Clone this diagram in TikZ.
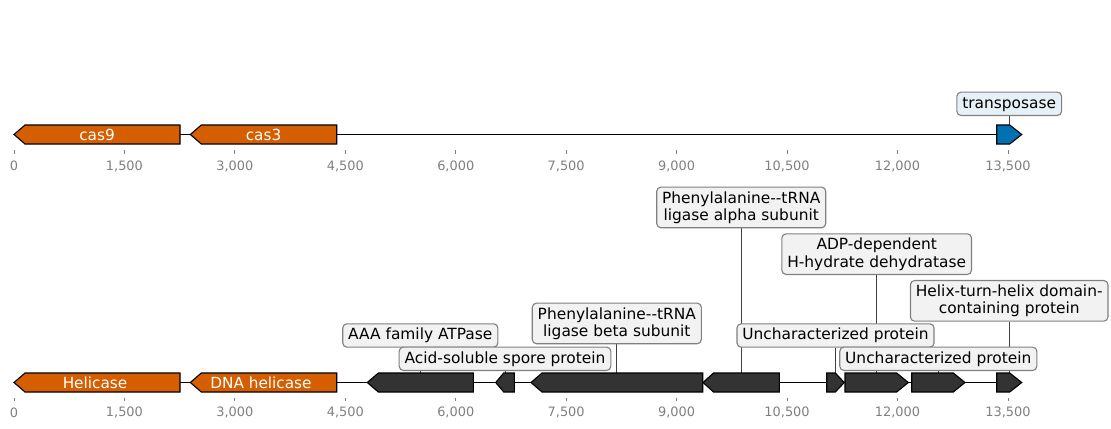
\documentclass[tikz,border=0pt]{standalone}
\usepackage{fontspec}
\setmainfont{DejaVu Sans}
\usetikzlibrary{positioning}
\definecolor{casorange}{HTML}{D55E00}
\definecolor{tnpblue}{HTML}{0072B2}
\definecolor{orfgray}{HTML}{333333}
\definecolor{boxgray}{HTML}{F2F2F2}
\definecolor{boxblue}{HTML}{E6F1F7}
\definecolor{tickgray}{HTML}{808080}
\pgfdeclarelayer{bg}
\pgfsetlayers{bg,main}
\pgfkeys{/pgf/number format/.cd, assume math mode=true, 1000 sep={,}}

% gene arrows: {fill}{left}{right}{head}{centre y}
\newcommand{\fwdgene}[5]{\draw[gene, fill=#1] (#2,#5-9.5) -- (#3-#4,#5-9.5) -- (#3,#5) -- (#3-#4,#5+9.5) -- (#2,#5+9.5) -- cycle;}
\newcommand{\revgene}[5]{\draw[gene, fill=#1] (#3,#5-9.5) -- (#2+#4,#5-9.5) -- (#2,#5) -- (#2+#4,#5+9.5) -- (#3,#5+9.5) -- cycle;}

\begin{document}
\begin{tikzpicture}[x=0.72pt, y=-0.72pt,
    gene/.style={draw=black, line width=0.8pt, line join=miter},
    track/.style={line width=1.2pt, black},
    leader/.style={line width=0.6pt, black!75},
    tickmark/.style={line width=0.6pt, tickgray},
    ticklbl/.style={text=tickgray, font=\fontsize{9.3}{11}\selectfont, inner sep=0pt},
    genetxt/.style={text=white, font=\fontsize{11}{12.5}\selectfont, inner sep=0pt},
    lbl/.style={draw=tickgray, fill=boxgray, line width=0.8pt, rounded corners=3pt,
      inner xsep=3.9pt, inner ysep=3pt, align=center, anchor=south,
      font=\fontsize{11.1}{12.5}\selectfont},
    lbl1/.style={lbl, text height=8.5pt, text depth=2.3pt}]
  \useasboundingbox (0,0) rectangle (1111,428);

  % top track: cas locus
  \begin{pgfonlayer}{bg}
    \draw[track] (14,134.5) -- (1021.7,134.5);
  \end{pgfonlayer}
  \revgene{casorange}{14}{180}{11}{134.5}
  \revgene{casorange}{190.3}{336.7}{11}{134.5}
  \fwdgene{tnpblue}{996.7}{1021.7}{12}{134.5}
  \node[genetxt] (n-cas9) at (97,134.5) {cas9};
  \node[genetxt] (n-cas3) at (263.5,134.5) {cas3};
  \coordinate (g-tnp) at (1009.2,125);
  \node[lbl1, fill=boxblue] (l-tnp) at (1009.2,116) {transposase};
  \begin{pgfonlayer}{bg}
    \draw[leader] (l-tnp.south) -- (g-tnp);
  \end{pgfonlayer}
  \foreach \t in {0,1500,...,13500}{
    \pgfmathsetmacro\px{14+\t*0.07363}
    \draw[tickmark] (\px,150) -- (\px,153.5);
    \node[ticklbl] (ta-\t) at (\px,166) {\pgfmathprintnumber{\t}};
  }

  % bottom track: neighbourhood
  \begin{pgfonlayer}{bg}
    \draw[track] (14,382.5) -- (1021.7,382.5);
  \end{pgfonlayer}
  \revgene{casorange}{14}{180}{11}{382.5}
  \revgene{casorange}{190.3}{336.7}{11}{382.5}
  \revgene{orfgray}{367.3}{473.3}{11}{382.5}
  \revgene{orfgray}{495.7}{514.3}{8}{382.5}
  \revgene{orfgray}{531}{702.7}{11}{382.5}
  \revgene{orfgray}{703}{779.3}{10.5}{382.5}
  \fwdgene{orfgray}{826.7}{844.3}{9}{382.5}
  \fwdgene{orfgray}{845}{908.3}{11.6}{382.5}
  \fwdgene{orfgray}{911.7}{965}{11.7}{382.5}
  \fwdgene{orfgray}{996.7}{1021.7}{12}{382.5}
  \node[genetxt] (n-hel) at (95,382.5) {Helicase};
  \node[genetxt] (n-dnahel) at (261,382.5) {DNA helicase};

  \coordinate (g-aaa) at (420.3,373);
  \coordinate (g-ssp) at (505,373);
  \coordinate (g-pheT) at (616.8,373);
  \coordinate (g-pheS) at (741.2,373);
  \coordinate (g-nnr) at (835.5,373);
  \coordinate (g-adp) at (876.7,373);
  \coordinate (g-hyp) at (938.3,373);
  \coordinate (g-hth) at (1009.2,373);

  \node[lbl1] (l-aaa) at (420.3,347.7) {AAA family ATPase};
  \node[lbl1] (l-ssp) at (505,371) {Acid-soluble spore protein};
  \node[lbl] (l-pheT) at (616.8,344.3) {Phenylalanine-{}-tRNA\\ligase beta subunit};
  \node[lbl] (l-pheS) at (741.2,228.3) {Phenylalanine-{}-tRNA\\ligase alpha subunit};
  \node[lbl] (l-adp) at (876.7,275) {ADP-dependent\\H-hydrate dehydratase};
  \node[lbl] (l-hth) at (1009.2,321.7) {Helix-turn-helix domain-\\containing protein};
  \node[lbl1] (l-nnr) at (835.5,347.7) {Uncharacterized protein};
  \node[lbl1] (l-hyp) at (938.3,371) {Uncharacterized protein};
  \begin{pgfonlayer}{bg}
    \foreach \g in {aaa,ssp,pheT,pheS,nnr,adp,hyp,hth}
      \draw[leader] (l-\g.south) -- (g-\g);
  \end{pgfonlayer}

  \foreach \t in {0,1500,...,13500}{
    \pgfmathsetmacro\px{14+\t*0.07363}
    \draw[tickmark] (\px,397.5) -- (\px,401);
    \node[ticklbl] (tb-\t) at (\px,412.5) {\pgfmathprintnumber{\t}};
  }
\end{tikzpicture}
\end{document}
